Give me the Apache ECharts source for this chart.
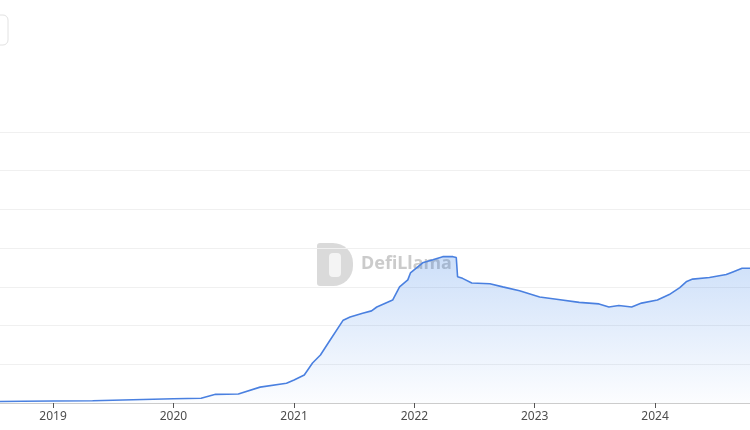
<!DOCTYPE html>
<html>
<head>
<meta charset="utf-8">
<script src="https://cdn.jsdelivr.net/npm/echarts@6/dist/echarts.min.js"></script>
<style>
html,body{margin:0;padding:0;background:#fff;}
#chart{width:750px;height:430px;}
</style>
</head>
<body>
<div id="chart"></div>
<script>
// Dates and values (billions USD)
const dates = [
  '2018-07-24','2018-10-01','2019-01-01','2019-05-01','2019-10-01','2020-01-01','2020-03-25',
  '2020-05-08','2020-07-16','2020-09-20','2020-12-09','2021-01-01','2021-02-01','2021-02-26',
  '2021-03-22','2021-04-20','2021-05-30','2021-06-20','2021-07-28','2021-08-24','2021-09-09',
  '2021-10-27','2021-11-17','2021-12-12','2021-12-20','2022-01-26','2022-02-26','2022-03-28',
  '2022-04-28','2022-05-08','2022-05-12','2022-05-27','2022-06-24','2022-08-18','2022-09-26',
  '2022-11-16','2023-01-16','2023-03-08','2023-05-16','2023-07-15','2023-08-14','2023-09-13',
  '2023-10-22','2023-11-21','2024-01-08','2024-02-13','2024-03-16','2024-04-06','2024-04-24',
  '2024-06-14','2024-08-04','2024-08-22','2024-09-21','2024-10-16'
];
const values = [
  2.0, 2.3, 2.6, 3.0, 4.5, 5.5, 6.1,
  11.2, 11.6, 20.5, 25.4, 29.7, 36.2, 51.7,
  62, 81, 107, 111, 116, 119, 124,
  133, 150, 159, 168, 181, 185, 189,
  189, 188, 163, 161, 155, 154, 150,
  145, 137, 134, 130, 128, 124, 126,
  124, 129, 133, 140, 149, 157, 160,
  162, 166, 169, 174, 174
];
const yTicks = [0, 50, 100, 150, 200, 250, 300, 350];

const chart = echarts.init(document.getElementById('chart'), null, {renderer: 'canvas'});
chart.setOption({
  animation: false,
  backgroundColor: '#ffffff',
  grid: {left: 0, right: 0, top: 132, bottom: 27},
  xAxis: {
    type: 'time',
    min: '2018-07-24',
    max: '2024-10-15',
    splitNumber: 6,
    minInterval: 365 * 86400000,
    axisLine: {lineStyle: {color: '#cccccc'}},
    axisTick: {show: true, length: 5, lineStyle: {color: '#555555'}},
    axisLabel: {
      color: '#4d4d4d', fontSize: 12, fontFamily: 'Noto Sans', margin: 8,
      formatter: '{yyyy}', hideOverlap: true
    },
    splitLine: {show: false}
  },
  yAxis: {
    type: 'value',
    min: yTicks[0],
    max: yTicks[yTicks.length - 1],
    interval: 50,
    axisLine: {show: false},
    axisTick: {show: false},
    axisLabel: {show: false},
    splitLine: {lineStyle: {color: '#f0f0f0'}}
  },
  graphic: [
    {type: 'rect', shape: {x: -20, y: 15, width: 28, height: 30, r: 5},
     style: {fill: '#ffffff', stroke: '#e2e2e2', lineWidth: 1}},
    {type: 'group', left: 317, top: 243, silent: true, z: 0, children: [
      {type: 'rect', shape: {x: 0, y: 0, width: 36, height: 43, r: [3, 20, 20, 3]},
       style: {fill: 'rgba(150,150,150,0.35)'}},
      {type: 'rect', shape: {x: 12, y: 10, width: 12, height: 24, r: 4},
       style: {fill: 'rgba(255,255,255,0.7)'}},
      {type: 'text', left: 44, top: 12,
       style: {text: 'DefiLlama', fill: 'rgba(140,140,140,0.45)', font: 'bold 18px "Noto Sans"'}}
    ]}
  ],
  series: [{
    type: 'line',
    data: dates.map((d, i) => [d, values[i]]),
    showSymbol: false,
    smooth: false,
    lineStyle: {color: '#4a80e0', width: 1.6},
    areaStyle: {
      color: new echarts.graphic.LinearGradient(0, 0, 0, 1, [
        {offset: 0, color: 'rgba(33,114,229,0.32)'},
        {offset: 1, color: 'rgba(33,114,229,0.02)'}
      ])
    }
  }]
});
</script>
</body>
</html>
